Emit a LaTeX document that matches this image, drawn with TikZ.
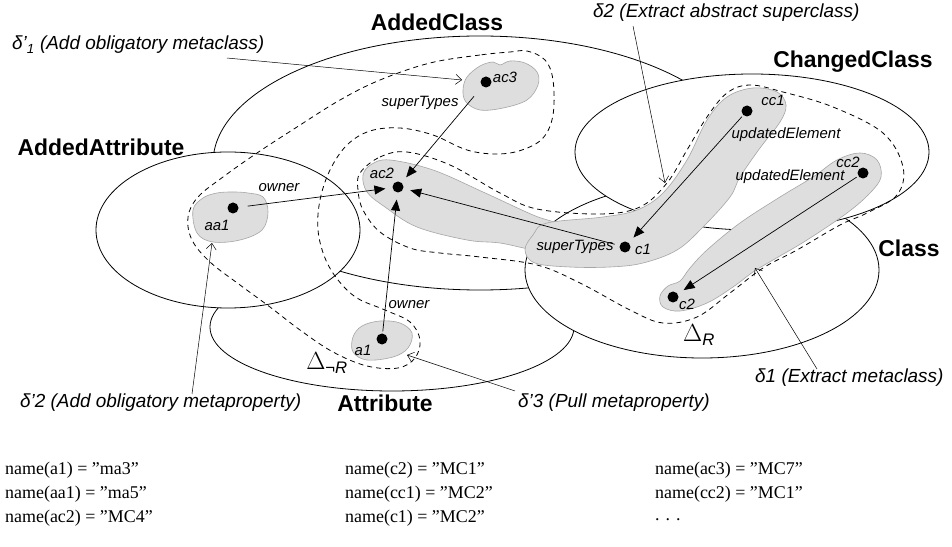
\documentclass[tikz,border=0pt]{standalone}
\usepackage{fontspec}
\setmainfont{Liberation Serif}
\setsansfont{Liberation Sans}
\usetikzlibrary{arrows.meta}

\tikzset{
  set/.style={draw=black, line width=0.8bp, fill=white},
  region/.style={draw=black, line width=0.8bp, dash pattern=on 5bp off 4bp},
  blob/.style={draw=black!35, fill=black!13, line width=0.6bp},
  elem/.style={circle, fill=black, inner sep=0pt, minimum size=11bp},
  link/.style={->, line width=0.7bp, shorten >=7bp, shorten <=2bp},
  note/.style={-{Straight Barb[length=6bp,width=10bp]}, line width=0.5bp},
  setname/.style={font=\sffamily\bfseries\fontsize{23}{26}\selectfont, inner sep=0pt},
  elemname/.style={font=\sffamily\itshape\fontsize{15}{17}\selectfont, inner sep=0pt},
  notename/.style={font=\sffamily\itshape\fontsize{19}{22}\selectfont, inner sep=0pt, anchor=west},
  nametext/.style={font=\fontsize{18}{20}\selectfont, inner sep=0pt, anchor=west},
  deltaname/.style={font=\fontsize{24}{26}\selectfont, inner sep=0pt},
}

\begin{document}
\begin{tikzpicture}[%
  x=1bp, y=-1bp,
  >={Triangle[length=11bp,width=9bp]},
]

  \useasboundingbox (0,0) rectangle (952,547);

  % sets
  \draw[set] (392,327) ellipse [x radius=182bp, y radius=64bp];
  \draw[set] (480,163) ellipse [x radius=267bp, y radius=127bp];
  \draw[set] (228,230) ellipse [x radius=132bp, y radius=78bp];
  \draw[set] (702,270) ellipse [x radius=177bp, y radius=88bp];
  \draw[set] (752,152) ellipse [x radius=177bp, y radius=78bp];

  % Delta not R
  \draw[region] plot[smooth cycle, tension=0.6] coordinates {
    (510,52) (480,55) (430,63) (380,80) (340,100) (297,127) (257,153)
    (223,177) (198,197) (188,217) (192,240) (210,262) (240,285) (270,307)
    (300,330) (333,352) (367,366) (398,368) (415,358) (420,340) (410,322)
    (385,310) (357,298) (338,280) (325,258) (318,230) (320,200) (330,170)
    (347,145) (370,131) (400,128) (433,135) (467,150) (497,154) (522,150)
    (543,138) (553,115) (553,80) (545,60) (527,51)};

  % Delta R
  \draw[region] plot[smooth cycle, tension=0.6] coordinates {
    (360,173) (380,157) (407,152) (450,165) (500,193) (537,209) (600,214)
    (640,207) (667,183) (687,150) (707,117) (727,93) (750,85) (783,92)
    (833,107) (883,133) (903,167) (897,195) (867,213) (840,225) (797,250)
    (763,268) (730,293) (697,317) (663,323) (630,310) (580,283) (537,265)
    (480,257) (440,253) (410,248) (380,232) (363,210) (358,190)};

  % elements
  \draw[blob] plot[smooth cycle, tension=0.6] coordinates {
    (467,77) (480,66) (493,62) (500,65) (510,61) (525,63) (537,72)
    (538,85) (527,100) (503,108) (480,110) (466,102) (463,90)};
  \draw[blob] plot[smooth cycle, tension=0.6] coordinates {
    (193,210) (203,198) (217,193) (233,192) (248,193) (263,197) (268,212)
    (262,230) (240,240) (213,242) (197,233)};
  \draw[blob] plot[smooth cycle, tension=0.6] coordinates {
    (353,337) (362,326) (380,321) (400,323) (412,333) (408,348) (393,357)
    (367,360) (353,352)};
  \draw[blob] plot[smooth cycle, tension=0.6] coordinates {
    (363,175) (372,164) (390,160) (433,170) (483,192) (533,215) (560,225)
    (565,240) (540,250) (500,243) (467,240) (417,227) (385,207) (367,192)};
  \draw[blob] plot[smooth cycle, tension=0.6] coordinates {
    (547,223) (603,217) (637,210) (663,193) (687,160) (707,120) (727,97)
    (753,88) (777,92) (786,105) (780,122) (760,148) (740,177) (730,197)
    (703,227) (677,250) (643,263) (610,267) (570,267) (535,263) (525,250)
    (533,235)};
  \draw[blob] plot[smooth cycle, tension=0.6] coordinates {
    (837,160) (860,153) (877,160) (881,177) (870,193) (847,213) (807,240)
    (773,260) (753,272) (733,287) (707,303) (680,311) (663,307) (660,296)
    (668,286) (680,281) (690,268) (707,250) (740,223) (780,197) (813,177)};

  \node[elem] (ac3) at (486,82) {};
  \node[elem] (aa1) at (233,208) {};
  \node[elem] (a1)  at (382,339) {};
  \node[elem] (ac2) at (398,187) {};
  \node[elem] (c1)  at (625,247) {};
  \node[elem] (cc1) at (747,111) {};
  \node[elem] (cc2) at (863,173) {};
  \node[elem] (c2)  at (673,297) {};

  \node[elemname] (ac3-l) at (505,77)  {ac3};
  \node[elemname] (aa1-l) at (217,225) {aa1};
  \node[elemname] (a1-l)  at (363,350) {a1};
  \node[elemname] (ac2-l) at (382,173) {ac2};
  \node[elemname] (c1-l)  at (643,249) {c1};
  \node[elemname] (cc1-l) at (773,100) {cc1};
  \node[elemname] (cc2-l) at (848,162) {cc2};
  \node[elemname] (c2-l)  at (687,304) {c2};

  % references
  \draw[link, shorten <=9bp] (aa1) -- (ac2);
  \draw[link] (a1) -- (ac2);
  \draw[link, shorten <=13bp] (ac3) -- (ac2);
  \draw[link, shorten <=5bp] (c1) -- (ac2);
  \draw[link] (cc1) -- (c1);
  \draw[link] (cc2) -- (c2);

  \node[elemname] (own1) at (279,188) {owner};
  \node[elemname] (own2) at (409,305) {owner};
  \node[elemname] (sup1) at (420,103) {superTypes};
  \node[elemname] (sup2) at (575,247) {superTypes};
  \node[elemname] (upd1) at (786,135) {updatedElement};
  \node[elemname] (upd2) at (790,177) {updatedElement};

  % set names
  \node[setname] (n-addedclass) at (437,22)  {AddedClass};
  \node[setname] (n-changed)    at (853,62)  {ChangedClass};
  \node[setname] (n-addedattr)  at (101,147) {AddedAttribute};
  \node[setname] (n-class)      at (909,248) {Class};
  \node[setname] (n-attr)       at (385,403) {Attribute};

  \node[deltaname] (dnr) at (327,363)
    {$\Delta$\textsubscript{\sffamily ¬\itshape R}};
  \node[deltaname] (dr) at (699,335)
    {$\Delta$\textsubscript{\sffamily\itshape R}};

  % changes
  \node[notename] (dp1) at (12,45)   {δ'\textsubscript{1} (Add obligatory metaclass)};
  \node[notename] (d2)  at (593,13)  {δ2 (Extract abstract superclass)};
  \node[notename] (dp2) at (20,403)  {δ'2 (Add obligatory metaproperty)};
  \node[notename] (dp3) at (518,403) {δ'3 (Pull metaproperty)};
  \node[notename] (d1)  at (755,378) {δ1 (Extract metaclass)};

  \coordinate (dp1-t) at (462,80);
  \coordinate (d2-t)  at (665,183);
  \coordinate (dp2-t) at (212,243);
  \coordinate (dp3-t) at (407,355);
  \coordinate (d1-t)  at (755,268);

  \draw[note] ([xshift=215bp,yshift=-4bp]dp1.south west) -- (dp1-t);
  \draw[note] ([xshift=40bp,yshift=-4bp]d2.south west) -- (d2-t);
  \draw[note] ([xshift=172bp]dp2.north west) -- (dp2-t);
  \draw[note] ([xshift=-3bp,yshift=3bp]dp3.north west) -- (dp3-t);
  \draw[note] ([xshift=62bp]d1.north west) -- (d1-t);

  % names
  \node[nametext] (nm1) at (5,470)   {name(a1) = ”ma3”};
  \node[nametext] (nm2) at (5,494)   {name(aa1) = ”ma5”};
  \node[nametext] (nm3) at (5,518)   {name(ac2) = ”MC4”};
  \node[nametext] (nm4) at (345,470) {name(c2) = ”MC1”};
  \node[nametext] (nm5) at (345,494) {name(cc1) = ”MC2”};
  \node[nametext] (nm6) at (345,518) {name(c1) = ”MC2”};
  \node[nametext] (nm7) at (655,470) {name(ac3) = ”MC7”};
  \node[nametext] (nm8) at (655,494) {name(cc2) = ”MC1”};
  \node[nametext] (nm9) at (655,520) {. . .};

\end{tikzpicture}
\end{document}
